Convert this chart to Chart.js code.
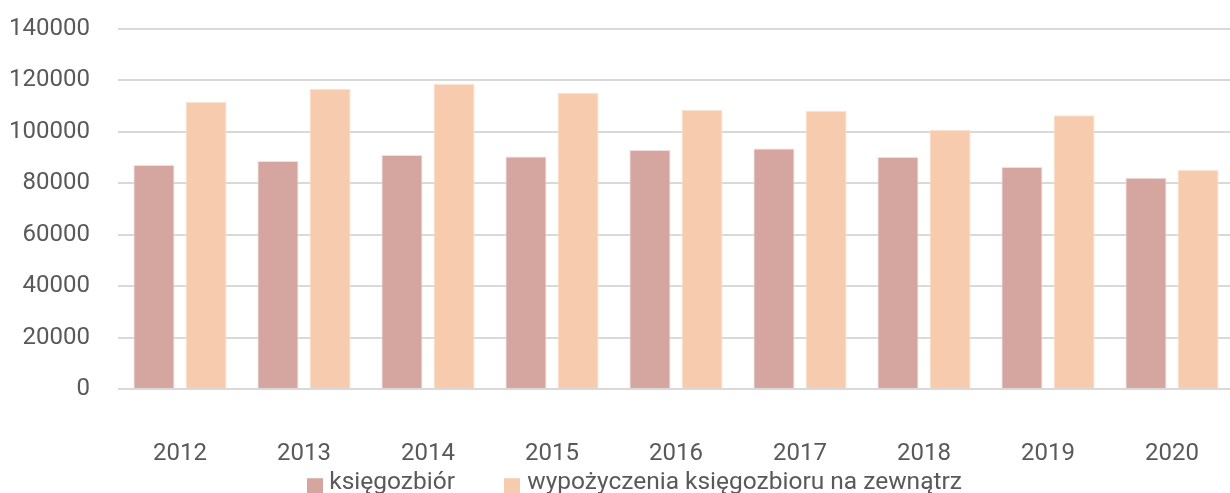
<!DOCTYPE html>
<html>
<head>
<meta charset="utf-8">
<script src="https://cdn.jsdelivr.net/npm/chart.js@4/dist/chart.umd.min.js"></script>
<style>
html,body{margin:0;padding:0;background:#fff;overflow:hidden;}
#wrap{width:1230px;height:493px;position:relative;overflow:hidden;}
canvas{display:block;}
</style>
</head>
<body>
<div id="wrap"><canvas id="c" width="1234" height="493"></canvas></div>
<script>
const categories = ['2012','2013','2014','2015','2016','2017','2018','2019','2020'];
const ksiegozbior = [87100, 88700, 91000, 90400, 92900, 93500, 90200, 86300, 82200];
const wypozyczenia = [111700, 116800, 118700, 115200, 108600, 108200, 100800, 106500, 85300];
const seriesNames = ['księgozbiór', 'wypożyczenia księgozbioru na zewnątrz'];
const yTicks = [0, 20000, 40000, 60000, 80000, 100000, 120000, 140000];
const seriesColors = ['#D5A5A0', '#F7CBAD'];
const seriesBorders = ['#F2DEDC', '#FBE5D6'];

const textColor = '#595959';
const fontFamily = 'Roboto, "Noto Sans", sans-serif';

function swatch(color) {
  const c = document.createElement('canvas');
  c.width = 16; c.height = 20;
  const g = c.getContext('2d');
  g.fillStyle = color;
  g.fillRect(0, 5, 16, 15);
  return c;
}
const swatches = seriesColors.map(swatch);

const LEGEND_TOP = 416;
const LEGEND_SHIFT = 20;
const legendFit = {
  id: 'legendFit',
  beforeLayout(chart) {
    const lg = chart.legend;
    if (lg && !lg._patched) {
      const orig = lg.fit;
      lg.fit = function() { orig.call(this); this.height = 20; };
      lg._patched = true;
    }
  },
  afterLayout(chart) {
    const lg = chart.legend;
    if (lg) {
      lg.top = LEGEND_TOP; lg.bottom = chart.height;
      lg.left += LEGEND_SHIFT; lg.right += LEGEND_SHIFT;
    }
  }
};

new Chart(document.getElementById('c'), {
  type: 'bar',
  data: {
    labels: categories,
    datasets: [
      { label: seriesNames[0], data: ksiegozbior, backgroundColor: seriesColors[0], borderColor: seriesBorders[0], borderWidth: 1 },
      { label: seriesNames[1], data: wypozyczenia, backgroundColor: seriesColors[1], borderColor: seriesBorders[1], borderWidth: 1 }
    ]
  },
  options: {
    responsive: false,
    animation: false,
    layout: { padding: { top: 29, right: 0, left: 0, bottom: 0 } },
    datasets: { bar: { categoryPercentage: 0.84, barPercentage: 0.79 } },
    plugins: {
      tooltip: { enabled: false },
      legend: {
        position: 'bottom',
        labels: {
          color: textColor,
          font: { family: fontFamily, size: 24.5 },
          usePointStyle: true,
          pointStyleWidth: 5,
          boxHeight: 17,
          padding: 55,
          generateLabels(chart) {
            const items = Chart.defaults.plugins.legend.labels.generateLabels(chart);
            items.forEach(it => { it.pointStyle = swatches[it.datasetIndex]; });
            return items;
          }
        }
      }
    },
    scales: {
      x: {
        afterFit(s) { s.height = 84; s.paddingLeft = 0; s.paddingRight = 0; },
        grid: { display: false, drawTicks: false },
        border: { display: false },
        ticks: { color: textColor, font: { family: fontFamily, size: 24 }, padding: 51 }
      },
      y: {
        min: 0, max: 140000,
        afterFit(s) { s.width = 118; s.paddingTop = 0; s.paddingBottom = 0; },
        afterBuildTicks(s) { s.ticks = yTicks.map(v => ({ value: v })); },
        grid: { color: '#D9D9D9', lineWidth: 2, drawTicks: false },
        border: { display: false },
        ticks: { color: textColor, font: { family: fontFamily, size: 24 }, padding: 28, callback: v => String(v) }
      }
    }
  },
  plugins: [legendFit]
});
</script>
</body>
</html>
